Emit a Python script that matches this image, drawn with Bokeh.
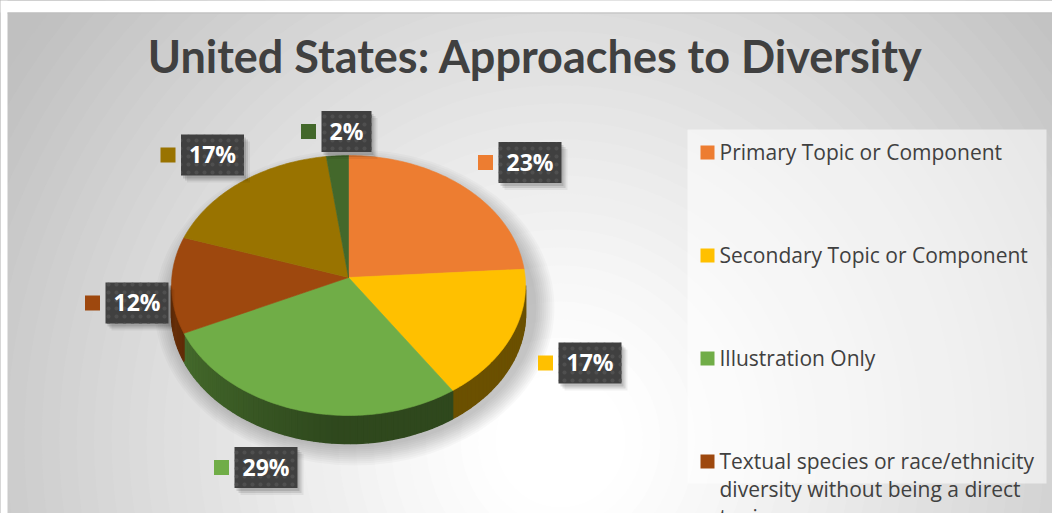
import textwrap
import numpy as np
from bokeh.plotting import figure
from bokeh.models import Range1d
from bokeh.core.properties import value
from bokeh.embed import file_html
from bokeh.resources import INLINE

# ---------------- data ----------------
TITLE = "United States: Approaches to Diversity"
categories = [
    "Primary Topic or Component",
    "Secondary Topic or Component",
    "Illustration Only",
    "Textual species or race/ethnicity diversity without being a direct topic",
    "Category 5",
    "Category 6",
]
shares = [23, 17, 29, 12, 17, 2]
colors = ["#ED7D31", "#FFC000", "#70AD47", "#9E480E", "#997300", "#43682B"]
label_texts = [f"{v}%" for v in shares]

# ---------------- layout ----------------
W, H = 1052, 513
CX, CY = 348, 285          # top-face ellipse centre (px)
RX, RY = 177, 130          # top-face semi axes
APEX_DY = -8               # perspective: slices meet slightly above centre
DEPTH = 28                 # thickness of the pie
LABEL_CENTER = [(529.5, 162), (589.5, 362.5), (265.5, 467),
                (136.5, 302.5), (212, 154.5), (346, 131)]
LEG_X, LEG_Y0, LEG_STEP, LEG_LINE = 707, 152, 103, 28
BASE_SHIFT = 0.38          # em-fraction correction for alphabetic baseline

p = figure(width=W, height=H, x_range=Range1d(0, W), y_range=Range1d(H, 0),
           output_backend="svg", toolbar_location=None, min_border=0,
           x_axis_location=None, y_axis_location=None)
p.grid.visible = False
p.outline_line_color = None
p.background_fill_color = "white"
p.border_fill_color = "white"


def gray(t):
    f = np.clip((t - 0.12) / 0.95, 0, 1) ** 1.1
    g = int(round(255 - 63 * f))
    return "#%02x%02x%02x" % (g, g, g)


# radial gradient background
N = 50
ts = np.linspace(1.4, 0.02, N)
p.ellipse(x=[560] * N, y=[440] * N, width=2 * 620 * ts, height=2 * 640 * ts,
          fill_color=[gray(t) for t in ts], line_color=None)
# white page strips outside the chart area
p.quad(left=[0, 0], right=[W, 7], top=[0, 0], bottom=[12, H], fill_color="white", line_color=None)
p.segment(x0=[7], y0=[12.5], x1=[W], y1=[12.5], line_color="#bdbdbd", line_width=1)

# soft shadow under the pie
for k in range(10):
    p.ellipse(x=[CX + 6], y=[CY + 22], width=[2 * RX + 46 - 4 * k], height=[2 * RY + 56 - 4 * k],
              fill_color="black", fill_alpha=0.022, line_color=None)


def shade(hx, f):
    r, g, b = int(hx[1:3], 16), int(hx[3:5], 16), int(hx[5:7], 16)
    return "#%02x%02x%02x" % (int(r * f), int(g * f), int(b * f))


def ex(th):
    return CX + RX * np.sin(np.radians(th))


def ey(th):
    return CY - RY * np.cos(np.radians(th))


total = float(sum(shares))
cum = np.concatenate([[0], np.cumsum(shares)]) / total * 360.0

# side wall of the pie (front half visible)
sx, sy, sc = [], [], []
for i in range(len(shares)):
    lo, hi = max(cum[i], 90.0), min(cum[i + 1], 270.0)
    if hi <= lo:
        continue
    n = max(2, int((hi - lo) / 2) + 2)
    th = np.linspace(lo, hi, n)
    for a, b in zip(th[:-1], th[1:]):
        mid = 0.5 * (a + b)
        f = 0.42 + 0.26 * max(0.0, (mid - 185.0) / 85.0)
        sx.append([ex(a), ex(b), ex(b), ex(a)])
        sy.append([ey(a), ey(b), ey(b) + DEPTH, ey(a) + DEPTH])
        sc.append(shade(colors[i], f))
p.patches(xs=sx, ys=sy, fill_color=sc, line_color=sc, line_width=1.6)

# top face
tx, ty = [], []
for i in range(len(shares)):
    th = np.linspace(cum[i], cum[i + 1], max(3, int(cum[i + 1] - cum[i]) + 2))
    tx.append([CX] + list(ex(th)))
    ty.append([CY + APEX_DY] + list(ey(th)))
p.patches(xs=tx, ys=ty, fill_color=colors, line_color=colors, line_width=0.6)

# data labels
bx = [c[0] for c in LABEL_CENTER]
by = [c[1] for c in LABEL_CENTER]
bw = [24 + 13 * len(t) for t in label_texts]
bh = 41
for dx, dy, a in [(2, 3, 0.12), (4, 5, 0.10), (6, 7, 0.06)]:
    p.rect(x=[x + dx for x in bx], y=[y + dy for y in by], width=bw, height=bh,
           fill_color="black", fill_alpha=a, line_color=None)
p.rect(x=bx, y=by, width=bw, height=bh, fill_color="#404040", line_color=None,
       hatch_pattern="dot", hatch_color="#4f4f4f", hatch_scale=8, hatch_weight=1.2)
LBL_SIZE = 23
p.text(x=bx, y=[y + 8 - BASE_SHIFT * LBL_SIZE for y in by], text=label_texts, text_align="center",
       text_baseline="alphabetic", text_color="white", text_font=value("Open Sans"),
       text_font_style="bold", text_font_size=f"{LBL_SIZE}px")
p.rect(x=[x - w / 2 - 13 for x, w in zip(bx, bw)], y=by, width=15, height=15,
       fill_color=colors, line_color=None)

# legend
p.quad(left=[687], right=[1046], top=[129], bottom=[483], fill_color="white",
       fill_alpha=0.55, line_color=None)
LEG_SIZE = 21
yy = LEG_Y0
lt_x, lt_y, lt_t, mk_y, mk_c = [], [], [], [], []
for name, col in zip(categories, colors):
    if yy > H + 20:
        break
    lines = textwrap.wrap(name, 33)
    mk_y.append(yy)
    mk_c.append(col)
    for j, ln in enumerate(lines):
        lt_x.append(LEG_X + 12)
        lt_y.append(yy + 7 + j * LEG_LINE - BASE_SHIFT * LEG_SIZE)
        lt_t.append(ln)
    yy += LEG_STEP + (len(lines) - 1) * LEG_LINE
p.rect(x=[LEG_X] * len(mk_y), y=mk_y, width=14, height=14, fill_color=mk_c, line_color=None)
p.text(x=lt_x, y=lt_y, text=lt_t, text_align="left", text_baseline="alphabetic",
       text_color="#404040", text_font=value("Open Sans"), text_font_size=f"{LEG_SIZE}px")

# title
TITLE_SIZE = 45
p.text(x=[535], y=[73 - BASE_SHIFT * TITLE_SIZE], text=[TITLE], text_align="center",
       text_baseline="alphabetic", text_color="#404040", text_font=value("Lato"),
       text_font_style="bold", text_font_size=f"{TITLE_SIZE}px")

open("out.html", "w").write(file_html(p, INLINE))
